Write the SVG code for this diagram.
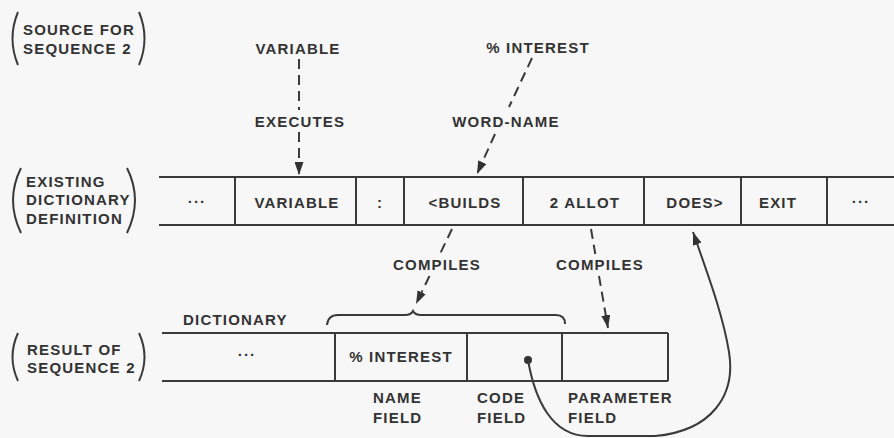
<svg xmlns="http://www.w3.org/2000/svg" width="894" height="438" viewBox="0 0 894 438">
<defs>
<style>
.t{font-family:"Liberation Sans",Arial,sans-serif;font-weight:bold;font-size:15px;letter-spacing:1.2px;fill:#333}
.m{text-anchor:middle}
.ln{stroke:#3a3a3a;stroke-width:2;fill:none}
.d{stroke:#3a3a3a;stroke-width:2;fill:none;stroke-dasharray:10 6}
</style>
<marker id="ah" viewBox="0 0 13 9" refX="13" refY="4.5" markerWidth="13" markerHeight="9" markerUnits="userSpaceOnUse" orient="auto">
<path d="M0,0 L13,4.5 L0,9 z" fill="#333"/>
</marker>
</defs>
<rect width="894" height="438" fill="#f7f7f7"/>

<g id="label-source">
<path class="ln" d="M18,12 Q7,38.5 18,65"/>
<path class="ln" d="M139,12 Q150,38.5 139,65"/>
<text class="t" x="23" y="35">SOURCE FOR</text>
<text class="t" x="23" y="54">SEQUENCE 2</text>
</g>
<g id="label-existing">
<path class="ln" d="M21,168 Q5,200 21,233"/>
<path class="ln" d="M127,168 Q143,200 127,233"/>
<text class="t" x="26" y="187">EXISTING</text>
<text class="t" x="26" y="205">DICTIONARY</text>
<text class="t" x="26" y="224">DEFINITION</text>
</g>
<g id="label-result">
<path class="ln" d="M18,333 Q7,357 18,381"/>
<path class="ln" d="M139,333 Q150,357 139,381"/>
<text class="t" x="27" y="355">RESULT OF</text>
<text class="t" x="27" y="373">SEQUENCE 2</text>
</g>

<g id="src-variable"><text class="t m" x="298" y="54">VARIABLE</text></g>
<g id="src-interest"><text class="t m" x="538" y="53">% INTEREST</text></g>

<g id="existing-dictionary">
<line class="ln" x1="159" y1="177" x2="894" y2="177"/>
<line class="ln" x1="159" y1="225" x2="894" y2="225"/>
<line class="ln" x1="235" y1="177" x2="235" y2="225"/>
<line class="ln" x1="356" y1="177" x2="356" y2="225"/>
<line class="ln" x1="404" y1="177" x2="404" y2="225"/>
<line class="ln" x1="523" y1="177" x2="523" y2="225"/>
<line class="ln" x1="644" y1="177" x2="644" y2="225"/>
<line class="ln" x1="741" y1="177" x2="741" y2="225"/>
<line class="ln" x1="827" y1="177" x2="827" y2="225"/>
<text class="t m" x="197" y="207">···</text>
<text class="t m" x="297" y="208">VARIABLE</text>
<text class="t m" x="380" y="208">:</text>
<text class="t m" x="465" y="208">&lt;BUILDS</text>
<text class="t m" x="585" y="208">2 ALLOT</text>
<text class="t m" x="695" y="208">DOES&gt;</text>
<text class="t m" x="778" y="208">EXIT</text>
<text class="t m" x="861" y="207">···</text>
</g>

<g id="result-dictionary">
<text class="t" x="183" y="325">DICTIONARY</text>
<path class="ln" d="M327,325 Q328,315 338,315 L405,315 Q411,315 413,311 Q415,315 421,315 L556,315 Q565,315 565,324"/>
<line class="ln" x1="162" y1="333" x2="668" y2="333"/>
<line class="ln" x1="162" y1="381" x2="668" y2="381"/>
<line class="ln" x1="335" y1="333" x2="335" y2="381"/>
<line class="ln" x1="467" y1="333" x2="467" y2="381"/>
<line class="ln" x1="562" y1="333" x2="562" y2="381"/>
<line class="ln" x1="668" y1="333" x2="668" y2="381"/>
<text class="t m" x="247" y="360">···</text>
<text class="t m" x="401" y="362">% INTEREST</text>
<circle cx="528" cy="360" r="4" fill="#333"/>
<text class="t" x="373" y="403">NAME</text>
<text class="t" x="373" y="423">FIELD</text>
<text class="t" x="477" y="403">CODE</text>
<text class="t" x="477" y="423">FIELD</text>
<text class="t" x="568" y="403">PARAMETER</text>
<text class="t" x="568" y="423">FIELD</text>
</g>

<g id="connectors">
<line class="d" x1="299" y1="59" x2="299" y2="110"/>
<text class="t m" x="300" y="127">EXECUTES</text>
<line class="d" x1="299" y1="132" x2="299" y2="175" marker-end="url(#ah)"/>
<line class="d" x1="532" y1="58" x2="509" y2="107"/>
<text class="t m" x="506" y="127">WORD-NAME</text>
<line class="d" x1="495" y1="134" x2="477" y2="174" marker-end="url(#ah)"/>
<line class="d" x1="452" y1="229" x2="440" y2="254"/>
<text class="t m" x="437" y="270">COMPILES</text>
<line class="d" x1="429.5" y1="276" x2="416" y2="304" marker-end="url(#ah)"/>
<line class="d" x1="591" y1="229" x2="595.3" y2="254"/>
<text class="t m" x="600" y="270">COMPILES</text>
<line class="d" x1="599" y1="276" x2="608" y2="328" marker-end="url(#ah)"/>
<path class="ln" d="M528,360 C535,400 552,436 588,436 L655,436 C712,431 736,395 729,352 C723,315 708,275 693,232" marker-end="url(#ah)"/>
</g>
</svg>
